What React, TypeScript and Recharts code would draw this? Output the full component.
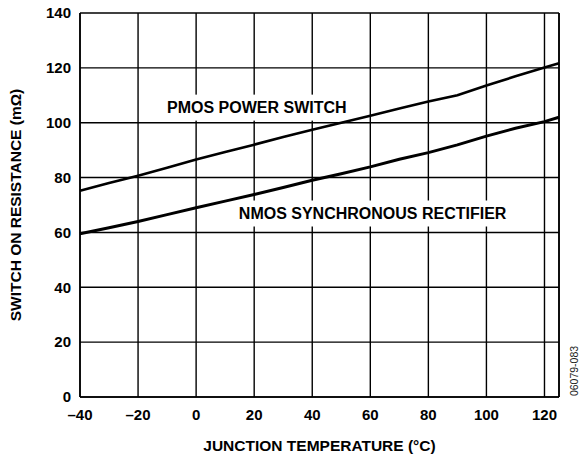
import React from "react";
import { LineChart, Line, XAxis, YAxis, CartesianGrid, ReferenceLine, ReferenceDot } from "recharts";

const temps = [-40, -30, -20, -10, 0, 10, 20, 30, 40, 50, 60, 70, 80, 90, 100, 110, 120, 125];
const pmos = [75.2, 78, 80.7, 83.6, 86.6, 89.3, 92, 94.8, 97.4, 100, 102.5, 105.2, 107.7, 110, 113.6, 116.9, 120.1, 121.7];
const nmos = [59.5, 61.7, 64, 66.5, 69, 71.4, 73.8, 76.4, 79, 81.4, 83.9, 86.7, 89.1, 91.9, 95.1, 98, 100.4, 102];

const xTicks = [-40, -20, 0, 20, 40, 60, 80, 100, 120];
const yTicks = [0, 20, 40, 60, 80, 100, 120, 140];

const notes = [
  { text: "PMOS POWER SWITCH", x: 20.9, y: 105.5 },
  { text: "NMOS SYNCHRONOUS RECTIFIER", x: 60.8, y: 66.9 },
];

const FONT = "'Liberation Sans', Arial, sans-serif";

const data = temps.map((t, i) => ({ t, pmos: pmos[i], nmos: nmos[i] }));

const fmt = (v: number) => (v < 0 ? "\u2013" + Math.abs(v) : String(v));

function NoteShape(props: any) {
  const { cx, cy, text } = props;
  const w = text.length * 10.3 + 6;
  return (
    <g>
      <rect x={cx - w / 2} y={cy - 13} width={w} height={26} fill="#fff" />
      <text x={cx} y={cy} textAnchor="middle" dominantBaseline="central"
        fontFamily={FONT} fontWeight="bold" fontSize={16} fill="#000">{text}</text>
    </g>
  );
}

export default function App() {
  const tickStyle = { fontFamily: FONT, fontWeight: "bold", fontSize: 15, fill: "#000" };
  return (
    <div style={{ position: "absolute", left: 0, top: 0, width: 581, height: 457, background: "#fff" }}>
      <LineChart width={581} height={457} data={data} margin={{ top: 13, right: 22, left: 0, bottom: 0 }}>
        <CartesianGrid stroke="#000" strokeWidth={1.4} />
        <XAxis dataKey="t" type="number" domain={[-40, 125]} ticks={xTicks} tickFormatter={fmt}
          height={60} tickLine={false} tickMargin={6} axisLine={{ stroke: "#000", strokeWidth: 1.6 }}
          tick={tickStyle} interval={0}
          label={{ value: "JUNCTION TEMPERATURE (°C)", position: "insideBottom", offset: 6,
            style: { fontFamily: FONT, fontWeight: "bold", fontSize: 15.5, fill: "#000" } }} />
        <YAxis type="number" domain={[0, 140]} ticks={yTicks} width={80} tickLine={false} tickMargin={3}
          axisLine={{ stroke: "#000", strokeWidth: 1.6 }} tick={tickStyle} interval={0}
          label={{
            content: (p: any) => {
              const vb = p.viewBox;
              const cy = vb.y + vb.height / 2;
              const cx = vb.x + 15;
              return (
                <text x={cx} y={cy} transform={`rotate(-90 ${cx} ${cy})`} textAnchor="middle"
                  dominantBaseline="central" fontFamily={FONT} fontWeight="bold" fontSize={15.5} fill="#000">
                  SWITCH ON RESISTANCE (mΩ)
                </text>
              );
            },
          }} />
        <ReferenceLine x={125} stroke="#000" strokeWidth={1.6} />
        {notes.map((n) => (
          <ReferenceDot key={n.text} x={n.x} y={n.y} r={0} zIndex={-50}
            shape={(p: any) => <NoteShape {...p} text={n.text} />} />
        ))}
        <Line type="linear" dataKey="pmos" stroke="#000" strokeWidth={2.6} dot={false} isAnimationActive={false} />
        <Line type="linear" dataKey="nmos" stroke="#000" strokeWidth={3} dot={false} isAnimationActive={false} />
      </LineChart>
      <div style={{ position: "absolute", left: 574, top: 371, transform: "translate(-50%, -50%) rotate(-90deg)",
        fontFamily: FONT, fontSize: 10.5, color: "#222", whiteSpace: "nowrap" }}>06079-083</div>
    </div>
  );
}
